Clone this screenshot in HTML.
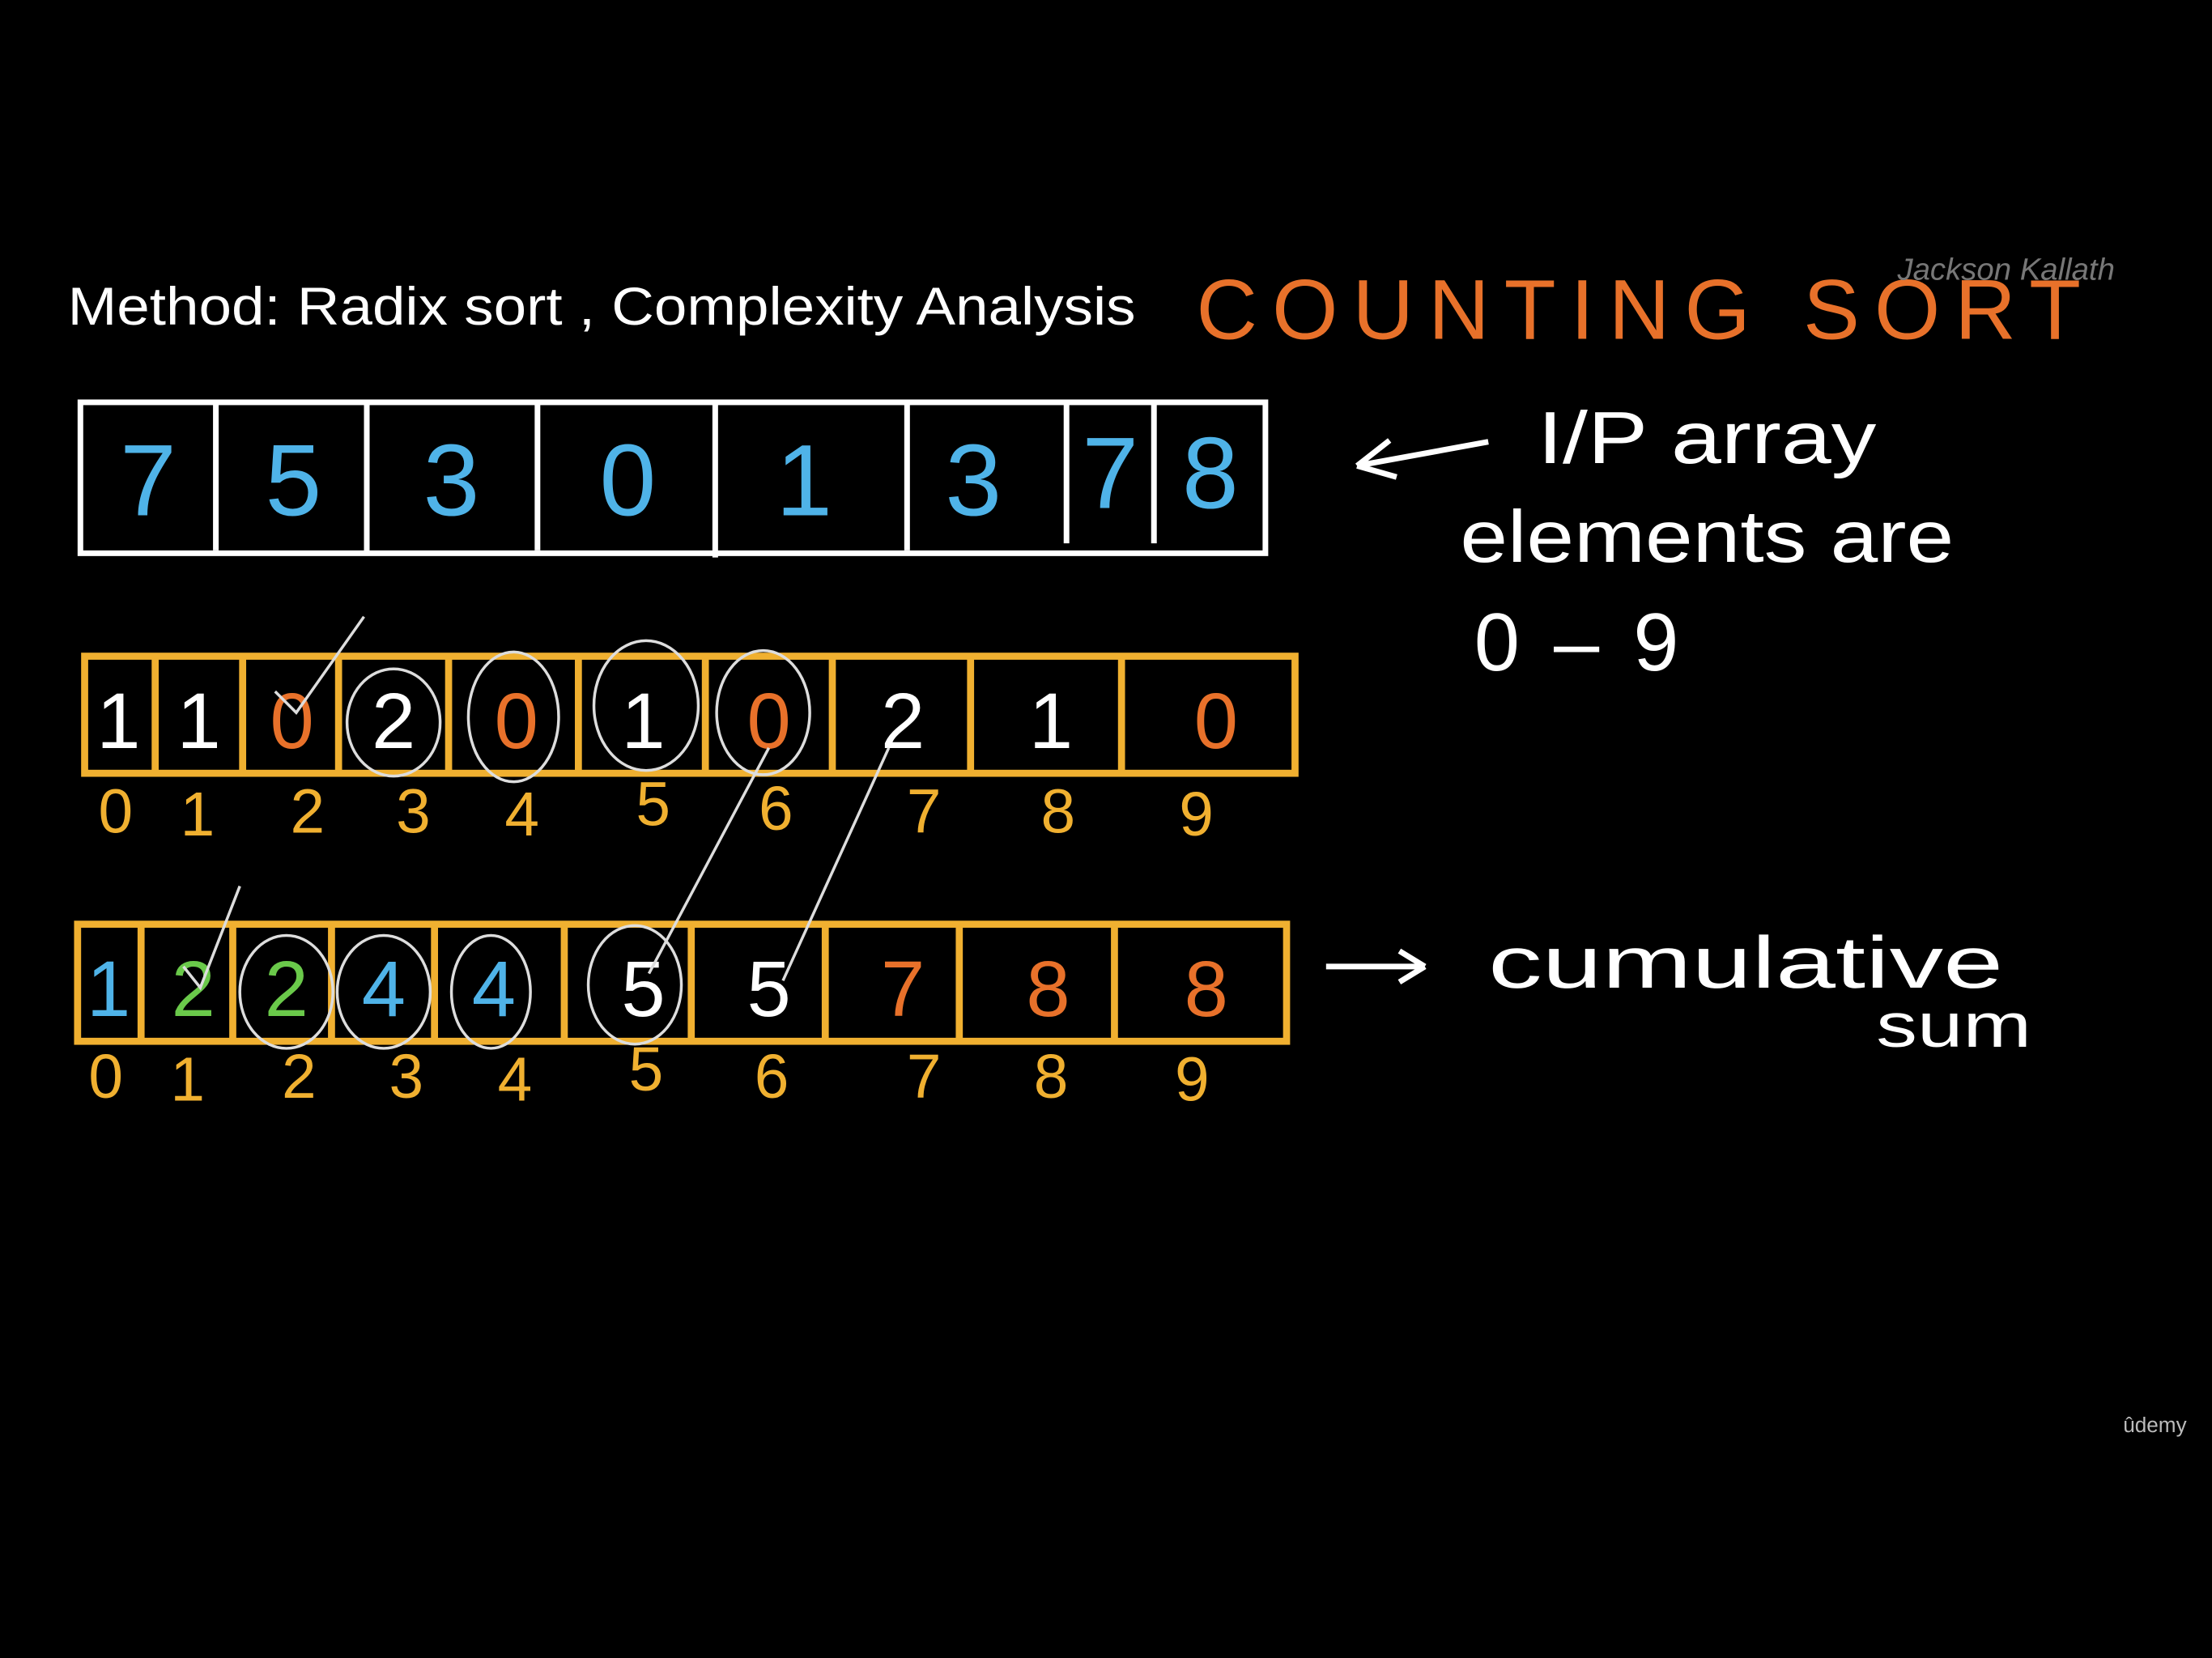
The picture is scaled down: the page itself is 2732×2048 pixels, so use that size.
<!DOCTYPE html>
<html><head><meta charset="utf-8"><style>
html,body{margin:0;padding:0;background:#000;width:2732px;height:2048px;overflow:hidden}
svg{display:block}
text{font-family:"Liberation Sans",sans-serif}
</style></head><body>
<svg width="2732" height="2048" viewBox="0 0 1568 1175" xmlns="http://www.w3.org/2000/svg">
<rect width="1568" height="1175" fill="#000"/>
<text x="48" y="230" fill="#fff" font-size="38" textLength="757" lengthAdjust="spacingAndGlyphs">Method: Radix sort , Complexity Analysis</text>
<text x="848" y="240" fill="#e8712a" font-size="60" textLength="627" lengthAdjust="spacing">COUNTING SORT</text>
<text x="1345" y="198" fill="#777" font-size="22" font-style="italic">Jackson Kallath</text>
<!-- Array 1 -->
<g stroke="#fff" stroke-width="4" fill="none">
<rect x="57" y="285" width="840" height="107"/>
<path d="M153 285V390M260 285V392M381 285V390M507 285V395M643 285V390M756 285V385M818 285V385"/>
<path d="M1055 313L962 330M962 330L985 312M962 330L990 338"/>
<path d="M940 685H1010M1010 685L992 674M1010 685L992 696"/>
</g>
<g fill="#4fb3e8" font-size="72" text-anchor="middle">
<text x="105" y="365">7</text><text x="208" y="365">5</text><text x="320" y="365">3</text><text x="445" y="365">0</text>
<text x="570" y="365">1</text><text x="690" y="365">3</text><text x="787" y="360">7</text><text x="858" y="360">8</text>
</g>
<g fill="#fff" font-size="52">
<text x="1090" y="328" textLength="240" lengthAdjust="spacingAndGlyphs">I/P array</text>
<text x="1035" y="398" textLength="350" lengthAdjust="spacingAndGlyphs">elements are</text>
<text x="1045" y="475" font-size="58" textLength="145" lengthAdjust="spacing">0 – 9</text>
<text x="1055" y="700" textLength="365" lengthAdjust="spacingAndGlyphs">cumulative</text>
<text x="1330" y="742" font-size="44" textLength="110" lengthAdjust="spacingAndGlyphs">sum</text>
</g>
<!-- Array 2 -->
<g stroke="#f0b030" stroke-width="5" fill="none">
<rect x="60" y="465" width="858" height="83"/>
<path d="M110 465V548M172 465V548M240 465V548M318 465V548M410 465V548M500 465V548M590 465V548M688 465V548M795 465V548"/>
<rect x="55" y="655" width="857" height="83"/>
<path d="M100 655V738M165 655V738M235 655V738M308 655V738M400 655V738M490 655V738M585 655V738M680 655V738M790 655V738"/>
</g>
<g font-size="56" text-anchor="middle" fill="#fff">
<text x="84" y="530">1</text><text x="141" y="530">1</text><text x="207" y="530" fill="#e8712a">0</text><text x="279" y="530">2</text>
<text x="366" y="530" fill="#e8712a">0</text><text x="456" y="530">1</text><text x="545" y="530" fill="#e8712a">0</text><text x="640" y="530">2</text>
<text x="745" y="530">1</text><text x="862" y="530" fill="#e8712a">0</text>
<text x="77" y="720" fill="#4fb3e8">1</text><text x="137" y="720" fill="#6ac94a">2</text><text x="203" y="720" fill="#6ac94a">2</text>
<text x="272" y="720" fill="#4fb3e8">4</text><text x="350" y="720" fill="#4fb3e8">4</text><text x="456" y="720">5</text><text x="545" y="720">5</text>
<text x="640" y="720" fill="#e8712a">7</text><text x="743" y="720" fill="#e8712a">8</text><text x="855" y="720" fill="#e8712a">8</text>
</g>
<g font-size="44" text-anchor="middle" fill="#f0b030">
<text x="82" y="590">0</text><text x="140" y="592">1</text><text x="218" y="590">2</text><text x="293" y="590">3</text><text x="370" y="592">4</text>
<text x="463" y="585">5</text><text x="550" y="588">6</text><text x="655" y="590">7</text><text x="750" y="590">8</text><text x="848" y="592">9</text>
<text x="75" y="778">0</text><text x="133" y="780">1</text><text x="212" y="778">2</text><text x="288" y="778">3</text><text x="365" y="780">4</text>
<text x="458" y="773">5</text><text x="547" y="778">6</text><text x="655" y="778">7</text><text x="745" y="778">8</text><text x="845" y="780">9</text>
</g>
<g stroke="#ddd" stroke-width="2" fill="none">
<ellipse cx="279" cy="512" rx="33" ry="38"/><ellipse cx="364" cy="508" rx="32" ry="46"/>
<ellipse cx="458" cy="500" rx="37" ry="46"/><ellipse cx="541" cy="505" rx="33" ry="44"/>
<ellipse cx="203" cy="703" rx="33" ry="40"/><ellipse cx="272" cy="703" rx="33" ry="40"/>
<ellipse cx="348" cy="703" rx="28" ry="40"/><ellipse cx="450" cy="698" rx="33" ry="42"/>
<path d="M195 490L210 505L258 437"/><path d="M130 685L142 700L170 628"/>
<path d="M545 530L460 690"/><path d="M630 530L555 695"/>
</g>
<text x="1505" y="1015" fill="#bbb" font-size="15">ûdemy</text>
</svg>
</body></html>
